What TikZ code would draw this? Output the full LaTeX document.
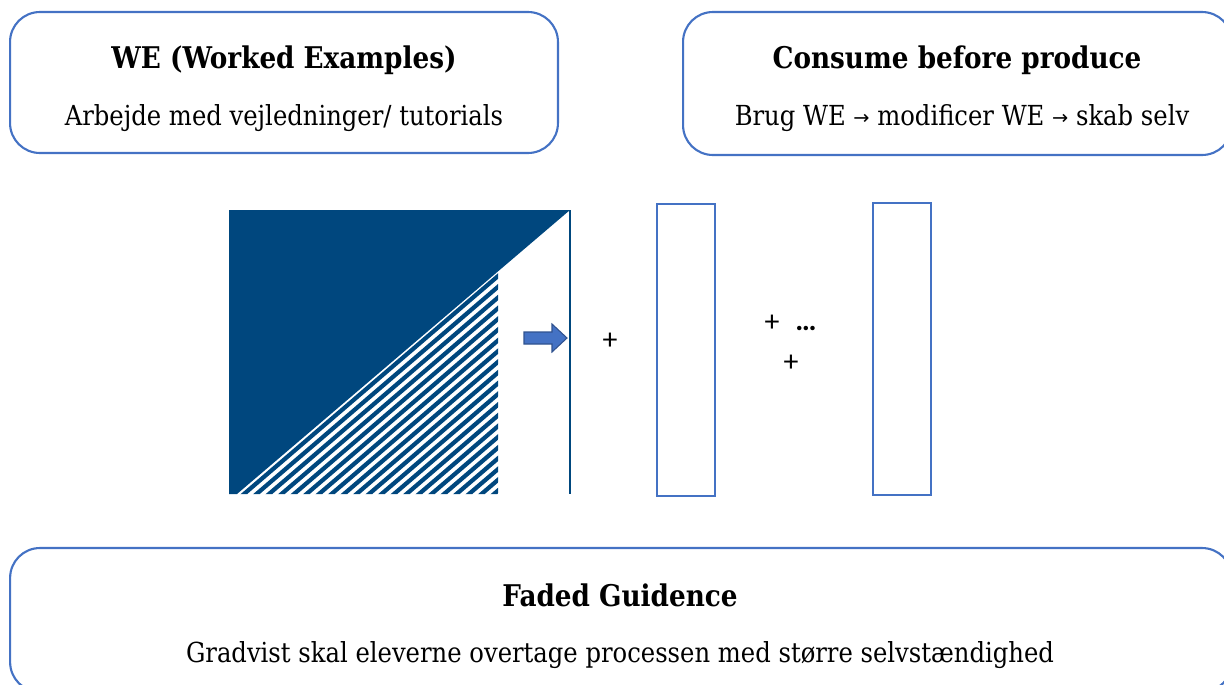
\documentclass[tikz,border=0pt]{standalone}
\usepackage{fontspec}
\setmainfont[FakeStretch=0.88]{DejaVu Serif}
\newfontfamily\plusfont{Carlito}
\newfontfamily\arrowfont{DejaVu Sans}
\usepackage{xcolor}
\definecolor{boxblue}{HTML}{4472C4}
\definecolor{darkblue}{HTML}{00477E}
\definecolor{arrowedge}{HTML}{2F528F}

\newcommand{\smallto}{{\arrowfont\fontsize{11}{12}\selectfont\raisebox{0.5pt}{→}}}

\tikzset{
  infobox/.style={draw=boxblue, line width=1.2pt, rounded corners=17pt, inner sep=0pt},
  framebox/.style={draw=boxblue, line width=1.2pt, inner sep=0pt,
    minimum width=1.16cm, minimum height=5.84cm},
  titletext/.style={font=\fontsize{17}{20}\selectfont\bfseries},
  bodytext/.style={font=\fontsize{15.7}{18}\selectfont},
  plustext/.style={font=\plusfont\fontsize{17}{19}\selectfont, inner sep=0pt}
}

\begin{document}
\begin{tikzpicture}[x=0.02cm, y=-0.02cm]
    \useasboundingbox (0,0) rectangle (1224,684);
    \clip (0,0) rectangle (1224,684);

    % Define nodes
    \node[infobox, minimum width=10.96cm, minimum height=2.82cm] (weBox) at (284,82.5) {};
    \node[titletext] (weTitle) at (284,60) {WE (Worked Examples)};
    \node[bodytext] (weBody) at (284,118) {Arbejde med vejledninger/ tutorials};

    \node[infobox, minimum width=10.98cm, minimum height=2.86cm] (cbpBox) at (957.5,83.5) {};
    \node[titletext] (cbpTitle) at (957,60) {Consume before produce};
    \node[bodytext] (cbpBody) at (962,118) {Brug WE \smallto{} modificer WE \smallto{} skab selv};

    \node[infobox, minimum width=24.44cm, minimum height=2.88cm] (fgBox) at (621,620) {};
    \node[titletext] (fgTitle) at (620,595) {Faded Guidence};
    \node[bodytext] (fgBody) at (620,655) {Gradvist skal eleverne overtage processen med større selvstændighed};

    % Faded square
    \coordinate (sqTL) at (229,210);
    \coordinate (sqTR) at (570,210);
    \coordinate (sqBL) at (229,494);
    \coordinate (sqBR) at (570,494);
    \fill[darkblue] (sqTL) -- (sqTR) -- (237,494) -- (sqBL) -- cycle;
    \begin{scope}
      \clip (237,494) -- (498,269) -- (498,494) -- cycle;
      \foreach \i in {0,...,22} {
        \pgfmathsetmacro{\sx}{244+\i*12.5}
        \draw[darkblue, line width=2.4pt] ({\sx-100},{494+85.8}) -- ({\sx+400},{494-343.2});
      }
    \end{scope}
    \draw[darkblue, line width=0.8pt] (sqTR) -- (sqBR);

    % Arrow
    \draw[fill=boxblue, draw=arrowedge, line width=0.6pt]
      (524,332) -- (552,332) -- (552,324) -- (567,338) -- (552,352) -- (552,344) -- (524,344) -- cycle;

    % Plus signs and frames
    \node[plustext] (plusA) at (610,341) {+};
    \node[framebox] (frameA) at (686,350) {};
    \node[plustext] (plusB) at (772,323) {+};
    \node[plustext, font=\plusfont\bfseries\fontsize{17}{19}\selectfont] (dots) at (806,328) {…};
    \node[plustext] (plusC) at (791,363) {+};
    \node[framebox] (frameB) at (902,349) {};

\end{tikzpicture}
\end{document}
